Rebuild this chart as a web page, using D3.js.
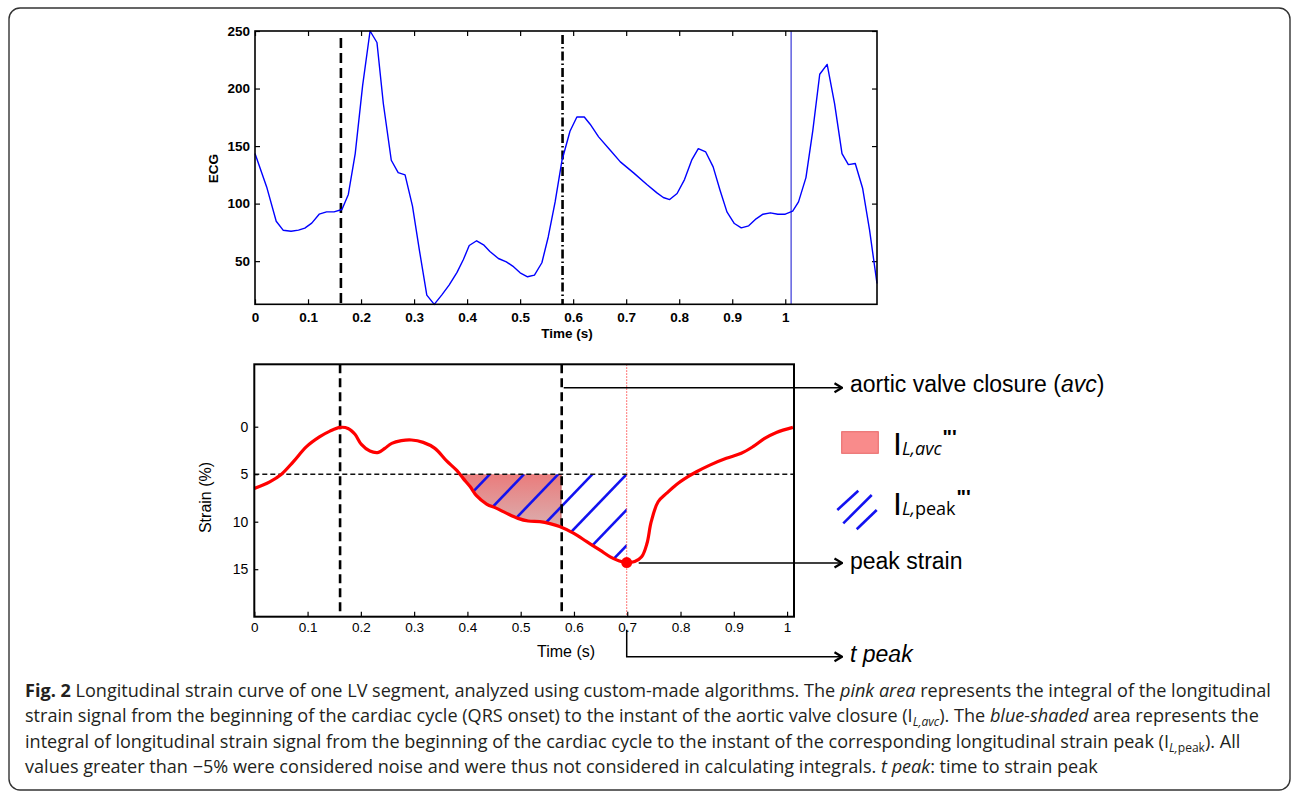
<!DOCTYPE html>
<html><head><meta charset="utf-8">
<script src="https://cdn.jsdelivr.net/npm/d3@7"></script>
<style>body{margin:0;background:#fff}</style>
</head><body>
<svg id="fig" width="1292" height="791" xmlns="http://www.w3.org/2000/svg"></svg>
<script>
// ---------- DATA ----------
const ecgTime = [0, 0.022, 0.040, 0.053, 0.068, 0.082, 0.094, 0.107, 0.121, 0.135, 0.149, 0.164, 0.176, 0.189, 0.203, 0.217, 0.230, 0.242, 0.257, 0.270, 0.283, 0.297, 0.310, 0.324, 0.338, 0.352, 0.366, 0.381, 0.393, 0.404, 0.418, 0.431, 0.443, 0.459, 0.474, 0.486, 0.500, 0.514, 0.527, 0.541, 0.553, 0.566, 0.579, 0.594, 0.607, 0.621, 0.632, 0.648, 0.670, 0.689, 0.714, 0.739, 0.758, 0.770, 0.782, 0.796, 0.810, 0.824, 0.836, 0.850, 0.864, 0.877, 0.890, 0.904, 0.917, 0.931, 0.945, 0.958, 0.972, 0.986, 1.000, 1.014, 1.025, 1.039, 1.052, 1.065, 1.079, 1.093, 1.107, 1.119, 1.132, 1.146, 1.159, 1.173];
const ecgValue = [143.5, 114.5, 84.7, 76.9, 76, 77, 78.7, 83, 90.8, 92.8, 92.8, 94.9, 108, 143.5, 202.8, 250, 240, 187, 137.7, 127, 125, 97.8, 59.6, 20.5, 12.4, 20.5, 29.2, 40.2, 51.4, 63.6, 67.7, 64.2, 58.4, 52.3, 49.4, 45.7, 39.9, 36.4, 37.8, 48.6, 71, 101.5, 137.7, 162.9, 175.3, 175.3, 169, 158, 146.4, 136.3, 126.7, 116.6, 109.3, 105.3, 103.5, 108.8, 120.9, 138.3, 147.8, 144.9, 131.9, 111.6, 92.8, 82.7, 78.9, 80.7, 86.8, 90.8, 92, 90.8, 90.8, 93.4, 101.5, 122.6, 163.7, 212.4, 221, 186.9, 143.5, 133.9, 134.8, 113.1, 76.9, 30.6];
const ecgXTicks = [0, 0.1, 0.2, 0.3, 0.4, 0.5, 0.6, 0.7, 0.8, 0.9, 1];
const ecgYTicks = [50, 100, 150, 200, 250];
const ecgQrsTime = 0.162, ecgAvcTime = 0.58, ecgNextTime = 1.011;

const strainTime = [0.0, 0.029, 0.051, 0.073, 0.098, 0.123, 0.142, 0.161, 0.176, 0.189, 0.201, 0.217, 0.233, 0.245, 0.258, 0.276, 0.295, 0.317, 0.339, 0.361, 0.380, 0.392, 0.405, 0.417, 0.436, 0.455, 0.473, 0.495, 0.514, 0.536, 0.555, 0.573, 0.599, 0.624, 0.649, 0.668, 0.684, 0.699, 0.714, 0.727, 0.737, 0.745, 0.758, 0.774, 0.792, 0.814, 0.830, 0.855, 0.886, 0.914, 0.936, 0.958, 0.980, 1.011];
const strainValue = [6.5, 5.8, 5.0, 3.7, 2.1, 1.05, 0.46, 0.07, 0.18, 0.8, 1.86, 2.56, 2.7, 2.28, 1.75, 1.47, 1.4, 1.65, 2.28, 3.6, 4.6, 5.44, 6.3, 7.26, 8.14, 8.6, 9.1, 9.65, 9.93, 10.0, 10.2, 10.5, 11.2, 12.1, 13.0, 13.7, 14.1, 14.3, 14.2, 13.7, 12.3, 10.0, 7.9, 7.0, 6.1, 5.26, 4.74, 4.04, 3.33, 2.8, 2.1, 1.23, 0.6, 0.07];
const strainXTicks = [0, 0.1, 0.2, 0.3, 0.4, 0.5, 0.6, 0.7, 0.8, 0.9, 1];
const strainYTicks = [0, 5, 10, 15];
const noiseThreshold = 5;
const qrsTime = 0.161, fillStartTime = 0.37, avcTime = 0.577, peakTime = 0.699, peakValue = 14.3;

const annotationLabels = ["aortic valve closure (", "avc", ")", "peak strain", "t peak"];
const captionLines = [
  [["Fig. 2","b"],[" Longitudinal strain curve of one LV segment, analyzed using custom-made algorithms. The ",""],["pink area","i"],[" represents the integral of the longitudinal",""]],
  [["strain signal from the beginning of the cardiac cycle (QRS onset) to the instant of the aortic valve closure (I",""],["L,avc","sub"],["). The ",""],["blue-shaded","i"],[" area represents the",""]],
  [["integral of longitudinal strain signal from the beginning of the cardiac cycle to the instant of the corresponding longitudinal strain peak (I",""],["L,","sub"],["peak","subr"],["). All",""]],
  [["values greater than \u22125% were considered noise and were thus not considered in calculating integrals. ",""],["t peak","i"],[": time to strain peak",""]]
];

// ---------- SETUP ----------
const svg = d3.select("#fig");
const defs = svg.append("defs");
svg.append("rect").attr("width",1292).attr("height",791).attr("fill","#fff");
svg.append("rect").attr("x",9).attr("y",8).attr("width",1281).attr("height",782)
  .attr("rx",11).attr("fill","none").attr("stroke","#333").attr("stroke-width",1.4);

const fmt = d => d === 0 ? "0" : d === 1 ? "1" : d3.format(".1f")(d);

// ---------- TOP: ECG ----------
const xE = d3.scaleLinear().domain([0, 1.173]).range([255, 877]);
const yE = d3.scaleLinear().domain([12.5, 250]).range([304.3, 31]);
const topG = svg.append("g").attr("font-family","'Liberation Sans', Arial, sans-serif");

function styleAxis(g, size, weight){
  g.attr("font-family",null).attr("font-size",null);
  g.select(".domain").remove();
  g.selectAll(".tick line").attr("stroke","#000").attr("stroke-width",1.2);
  g.selectAll(".tick text").attr("fill","#000").attr("font-size",size).attr("font-weight",weight).attr("font-family","Liberation Sans, Arial, sans-serif");
}
topG.append("g").attr("transform",`translate(0,${yE.range()[0]})`)
  .call(d3.axisBottom(xE).tickValues(ecgXTicks).tickFormat(fmt).tickSize(-5).tickPadding(8))
  .call(g=>styleAxis(g,13.5,"bold"));
topG.append("g").attr("transform",`translate(0,${yE.range()[1]})`)
  .call(d3.axisTop(xE).tickValues(ecgXTicks).tickFormat("").tickSize(-5))
  .call(g=>styleAxis(g,13.5,"bold"));
topG.append("g").attr("transform",`translate(${xE.range()[0]},0)`)
  .call(d3.axisLeft(yE).tickValues(ecgYTicks).tickSize(-5).tickPadding(5))
  .call(g=>styleAxis(g,13.5,"bold"));
topG.append("g").attr("transform",`translate(${xE.range()[1]},0)`)
  .call(d3.axisRight(yE).tickValues(ecgYTicks).tickFormat("").tickSize(-5))
  .call(g=>styleAxis(g,13.5,"bold"));

topG.append("line").attr("x1",xE(ecgQrsTime)).attr("x2",xE(ecgQrsTime)).attr("y1",yE.range()[1]+7).attr("y2",yE.range()[0])
  .attr("stroke","#000").attr("stroke-width",2.6).attr("stroke-dasharray","10,5");
topG.append("line").attr("x1",xE(ecgAvcTime)).attr("x2",xE(ecgAvcTime)).attr("y1",yE.range()[1]+4).attr("y2",yE.range()[0])
  .attr("stroke","#000").attr("stroke-width",2.6).attr("stroke-dasharray","9,3,1.5,3");
topG.append("line").attr("x1",xE(ecgNextTime)).attr("x2",xE(ecgNextTime)).attr("y1",yE.range()[1]).attr("y2",yE.range()[0])
  .attr("stroke","#1010d0").attr("stroke-width",1);

const ecgData = ecgTime.map((t,i)=>({t, v: ecgValue[i]}));
topG.append("path").datum(ecgData)
  .attr("d", d3.line().x(d=>xE(d.t)).y(d=>yE(d.v)))
  .attr("fill","none").attr("stroke","#0000ff").attr("stroke-width",1.4).attr("stroke-linejoin","round");

topG.append("rect").attr("x",xE.range()[0]).attr("y",yE.range()[1])
  .attr("width",xE.range()[1]-xE.range()[0]).attr("height",yE.range()[0]-yE.range()[1])
  .attr("fill","none").attr("stroke","#000").attr("stroke-width",1.6);

topG.append("text").attr("transform",`translate(218,${(yE.range()[0]+yE.range()[1])/2+1}) rotate(-90)`)
  .attr("text-anchor","middle").attr("font-size",13.5).attr("font-weight","bold").text("ECG");
topG.append("text").attr("x",567).attr("y",338).attr("text-anchor","middle")
  .attr("font-size",13.5).attr("font-weight","bold").text("Time (s)");

// ---------- BOTTOM: STRAIN ----------
const xS = d3.scaleLinear().domain([0, 1.013]).range([254.3, 794]);
const yS = d3.scaleLinear().domain([-6.57, 20]).range([364.3, 616.7]);
const bot = svg.append("g").attr("font-family","'Liberation Sans', Arial, sans-serif");
const strainData = strainTime.map((t,i)=>({t, v: strainValue[i]}));
const curve = d3.curveCatmullRom.alpha(0.5);

defs.append("clipPath").attr("id","belowLine").append("rect")
  .attr("x",xS(fillStartTime)).attr("y",yS(noiseThreshold)).attr("width",xS(avcTime)-xS(fillStartTime)).attr("height",yS.range()[1]-yS(noiseThreshold));
defs.append("clipPath").attr("id","belowLinePeak").append("rect")
  .attr("x",xS(fillStartTime)).attr("y",yS(noiseThreshold)).attr("width",xS(peakTime)-xS(fillStartTime)).attr("height",yS.range()[1]-yS(noiseThreshold));
defs.append("clipPath").attr("id","aboveCurve").append("path").datum(strainData)
  .attr("d", d3.area().x(d=>xS(d.t)).y0(yS.range()[0]).y1(d=>yS(d.v)).curve(curve));

const grad = defs.append("linearGradient").attr("id","pinkGrad").attr("gradientUnits","userSpaceOnUse")
  .attr("x1",0).attr("x2",0).attr("y1",yS(noiseThreshold)).attr("y2",yS(10.5));
grad.append("stop").attr("offset","0%").attr("stop-color","#ea7c7c");
grad.append("stop").attr("offset","100%").attr("stop-color","#dbaeae");

bot.append("g").attr("clip-path","url(#belowLine)")
  .append("g").attr("clip-path","url(#aboveCurve)")
  .append("rect").attr("x",xS.range()[0]).attr("y",yS.range()[0])
  .attr("width",xS.range()[1]-xS.range()[0]).attr("height",yS.range()[1]-yS.range()[0])
  .attr("fill","url(#pinkGrad)");
bot.append("line").attr("x1",xS(avcTime)-1).attr("x2",xS(avcTime)-1).attr("y1",yS(noiseThreshold)).attr("y2",yS(10.3))
  .attr("stroke","#c86a6a").attr("stroke-width",1);

const hatch = bot.append("g").attr("clip-path","url(#belowLinePeak)")
  .append("g").attr("clip-path","url(#aboveCurve)");
const hatchSpacing = 34.2, hatchSlope = 1.04, hatchLen = 160;
d3.range(-5, 4).forEach(k=>{
  const xt = xS(peakTime) + k*hatchSpacing, yt = yS(noiseThreshold);
  hatch.append("line").attr("x1",xt).attr("y1",yt).attr("x2",xt-hatchLen).attr("y2",yt+hatchLen*hatchSlope)
    .attr("stroke","#1212f0").attr("stroke-width",2.6);
});

bot.append("line").attr("x1",xS.range()[0]).attr("x2",xS.range()[1]).attr("y1",yS(noiseThreshold)).attr("y2",yS(noiseThreshold))
  .attr("stroke","#111").attr("stroke-width",1.5).attr("stroke-dasharray","5,3");
[qrsTime, avcTime].forEach(t=>{
  bot.append("line").attr("x1",xS(t)).attr("x2",xS(t)).attr("y1",yS.range()[0]).attr("y2",yS.range()[1])
    .attr("stroke","#000").attr("stroke-width",2.6).attr("stroke-dasharray","9,5");
});
bot.append("line").attr("x1",xS(peakTime)).attr("x2",xS(peakTime)).attr("y1",yS.range()[0]).attr("y2",yS.range()[1])
  .attr("stroke","#ff4a4a").attr("stroke-width",1).attr("stroke-dasharray","1.5,1.5");

bot.append("path").datum(strainData)
  .attr("d", d3.line().x(d=>xS(d.t)).y(d=>yS(d.v)).curve(curve))
  .attr("fill","none").attr("stroke","#ff0000").attr("stroke-width",3.2).attr("stroke-linejoin","round");
bot.append("circle").attr("cx",xS(peakTime)).attr("cy",yS(peakValue)).attr("r",5.5).attr("fill","#ff0000");

bot.append("g").attr("transform",`translate(0,${yS.range()[1]})`)
  .call(d3.axisBottom(xS).tickValues(strainXTicks).tickFormat(fmt).tickSize(-5).tickPadding(5.5))
  .call(g=>styleAxis(g,13.5,"normal"));
bot.append("g").attr("transform",`translate(${xS.range()[0]},0)`)
  .call(d3.axisLeft(yS).tickValues(strainYTicks).tickSize(-4).tickPadding(6))
  .call(g=>styleAxis(g,14,"normal"));
bot.append("rect").attr("x",xS.range()[0]).attr("y",yS.range()[0])
  .attr("width",xS.range()[1]-xS.range()[0]).attr("height",yS.range()[1]-yS.range()[0])
  .attr("fill","none").attr("stroke","#000").attr("stroke-width",2);
bot.append("text").attr("transform",`translate(211,${(yS.range()[0]+yS.range()[1])/2+7}) rotate(-90)`)
  .attr("text-anchor","middle").attr("font-size",16).text("Strain (%)");
bot.append("text").attr("x",566).attr("y",657).attr("text-anchor","middle").attr("font-size",16).text("Time (s)");

// ---------- ANNOTATIONS ----------
defs.append("marker").attr("id","arr").attr("viewBox","0 0 10 12").attr("refX",9).attr("refY",6)
  .attr("markerWidth",10).attr("markerHeight",12).attr("markerUnits","userSpaceOnUse").attr("orient","auto")
  .append("path").attr("d","M1.5,1.5 L9,6 L1.5,10.5").attr("fill","none").attr("stroke","#000").attr("stroke-width",2.2);
const ann = svg.append("g").attr("font-family","'Liberation Sans', Arial, sans-serif").attr("font-size",23).attr("fill","#000");
const arrowEnd = 842, labelX = 850;
const yAvc = 387.7, yPeak = yS(peakValue) + 0.5;
ann.append("path").attr("d",`M${xS(avcTime)+2},${yAvc} H${arrowEnd}`).attr("stroke","#000").attr("stroke-width",1.5).attr("fill","none").attr("marker-end","url(#arr)");
ann.append("path").attr("d",`M${xS(peakTime)+12},${yPeak} H${arrowEnd}`).attr("stroke","#000").attr("stroke-width",1.5).attr("fill","none").attr("marker-end","url(#arr)");
ann.append("path").attr("d",`M${xS(peakTime)},${yS.range()[1]+13} V656.7 H${arrowEnd}`).attr("stroke","#000").attr("stroke-width",1.5).attr("fill","none").attr("marker-end","url(#arr)");

const t1 = ann.append("text").attr("x",labelX).attr("y",yAvc+4);
t1.append("tspan").text(annotationLabels[0]);
t1.append("tspan").attr("font-style","italic").text(annotationLabels[1]);
t1.append("tspan").text(annotationLabels[2]);
ann.append("text").attr("x",labelX).attr("y",yPeak+6).text(annotationLabels[3]);
ann.append("text").attr("x",labelX).attr("y",661.7).attr("font-style","italic").text(annotationLabels[4]);

ann.append("rect").attr("x",841.7).attr("y",431.7).attr("width",36.6).attr("height",21.6)
  .attr("fill","#f98b8b").attr("stroke","#e86464").attr("stroke-width",1);
[[837.3,510,858.3,490.7],[843.3,523.3,871.7,495],[856.7,529.3,876.7,510]].forEach(([a,b,c,d])=>{
  ann.append("line").attr("x1",a).attr("y1",b).attr("x2",c).attr("y2",d).attr("stroke","#1212f0").attr("stroke-width",2.6);
});
function legendLabel(y, parts){
  const t = ann.append("text").attr("x",893).attr("y",y);
  t.append("tspan").attr("font-size",32).attr("font-family","'Liberation Sans', Arial, sans-serif").text("I");
  parts.forEach(([s,it])=>{
    t.append("tspan").attr("font-size",18).attr("font-family","'Open Sans', sans-serif").attr("font-style",it?"italic":"normal").text(s);
  });
  t.append("tspan").attr("font-size",20).attr("font-weight","bold").attr("dx",1).attr("dy",-11).attr("font-family","'Liberation Sans', Arial, sans-serif").text("\"'");
}
legendLabel(455, [["L,avc",true]]);
legendLabel(515, [["L,",true],["peak",false]]);

// ---------- CAPTION ----------
const capBaselines = [697, 722.5, 748, 773.5];
const capG = svg.append("g").attr("font-family","'Open Sans', sans-serif").attr("font-size",18).attr("fill","#231f20");
captionLines.forEach((segs,i)=>{
  const t = capG.append("text").attr("x",0).attr("y",capBaselines[i]);
  let shifted = false;
  segs.forEach(([s,st])=>{
    const ts = t.append("tspan").text(s);
    const isSub = st==="sub" || st==="subr";
    if(isSub && !shifted){ ts.attr("dy",4); shifted = true; }
    if(!isSub && shifted){ ts.attr("dy",-4); shifted = false; }
    if(isSub) ts.attr("font-size",12);
    if(st==="b") ts.attr("font-weight","bold");
    if(st==="i" || st==="sub") ts.attr("font-style","italic");
  });
});
const w1 = capG.select("text").node().getComputedTextLength();
const sx = 1247 / w1;
capG.attr("transform",`translate(25,0) scale(${sx},1)`);
</script>
</body></html>
